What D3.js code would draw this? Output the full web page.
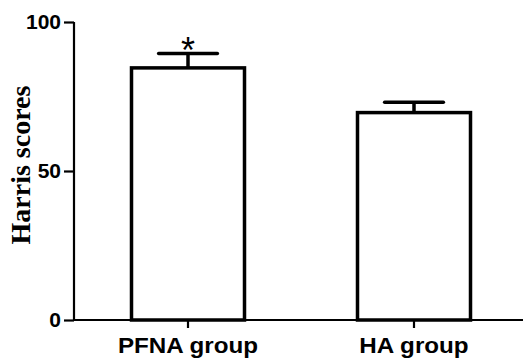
<!DOCTYPE html>
<html><head><meta charset="utf-8">
<script src="https://cdn.jsdelivr.net/npm/d3@7"></script>
<style>body{margin:0;background:#fff}</style>
</head><body>
<svg id="c" width="523" height="361"></svg>
<script>
const categories = ["PFNA group", "HA group"];
const means = [84.6, 69.6];
const errors = [4.8, 3.5];
const significance = ["*", ""];
const yTicks = [0, 50, 100];

const svg = d3.select("#c");
const x = d3.scaleBand().domain(categories).range([75, 527]).paddingInner(0.5).paddingOuter(0.25);
const y = d3.scaleLinear().domain([0, 100]).range([320, 22]);

// bars
svg.selectAll("rect.bar").data(categories).join("rect")
  .attr("x", d => x(d)).attr("y", (d,i) => y(means[i]))
  .attr("width", x.bandwidth()).attr("height", (d,i) => y(0) - y(means[i]))
  .attr("fill", "#fff").attr("stroke", "#000").attr("stroke-width", 3.5);

// error bars
const capW = x.bandwidth() * 0.52;
categories.forEach((c, i) => {
  const cx = x(c) + x.bandwidth() / 2;
  svg.append("line").attr("x1", cx).attr("x2", cx)
    .attr("y1", y(means[i])).attr("y2", y(means[i] + errors[i]))
    .attr("stroke", "#000").attr("stroke-width", 3.5);
  svg.append("line").attr("x1", cx - capW/2).attr("x2", cx + capW/2)
    .attr("y1", y(means[i] + errors[i])).attr("y2", y(means[i] + errors[i]))
    .attr("stroke", "#000").attr("stroke-width", 3.5).attr("stroke-linecap", "round");
  if (significance[i]) {
    svg.append("text").attr("x", cx).attr("y", y(means[i] + errors[i]) + 9)
      .attr("text-anchor", "middle").attr("font-family", "Liberation Sans, Arial, sans-serif")
      .attr("font-size", 36).attr("fill", "#000").text(significance[i]);
  }
});

// y axis
const yAxis = svg.append("g").attr("transform", "translate(74,0)")
  .call(d3.axisLeft(y).tickValues(yTicks).tickSize(10).tickPadding(3));
yAxis.select(".domain").attr("stroke-width", 2.2).attr("d", "M0," + y(100) + "V" + y(0)).attr("stroke", "#000");
yAxis.selectAll(".tick line").attr("stroke-width", 2.2).attr("stroke", "#000");
yAxis.selectAll(".tick text").attr("font-family", "Liberation Sans, Arial, sans-serif")
  .attr("font-weight", "bold").attr("font-size", 21).attr("fill", "#000");

// x axis
const xAxis = svg.append("g").attr("transform", "translate(0,320)")
  .call(d3.axisBottom(x).tickSize(8).tickPadding(9));
xAxis.select(".domain").attr("d", "M74,0H523").attr("stroke-width", 2.2).attr("stroke", "#000");
xAxis.selectAll(".tick line").attr("stroke-width", 2.2).attr("stroke", "#000");
xAxis.selectAll(".tick text").attr("font-family", "Liberation Sans, Arial, sans-serif")
  .attr("font-weight", "bold").attr("font-size", 22).attr("fill", "#000")
  .attr("transform", "scale(1.1,1)");

// y title
svg.append("text").attr("transform", "translate(30,165) rotate(-90)")
  .attr("text-anchor", "middle").attr("font-family", "Liberation Serif, Times New Roman, serif")
  .attr("font-weight", "bold").attr("font-size", 28).attr("fill", "#000").text("Harris scores");
</script>
</body></html>
